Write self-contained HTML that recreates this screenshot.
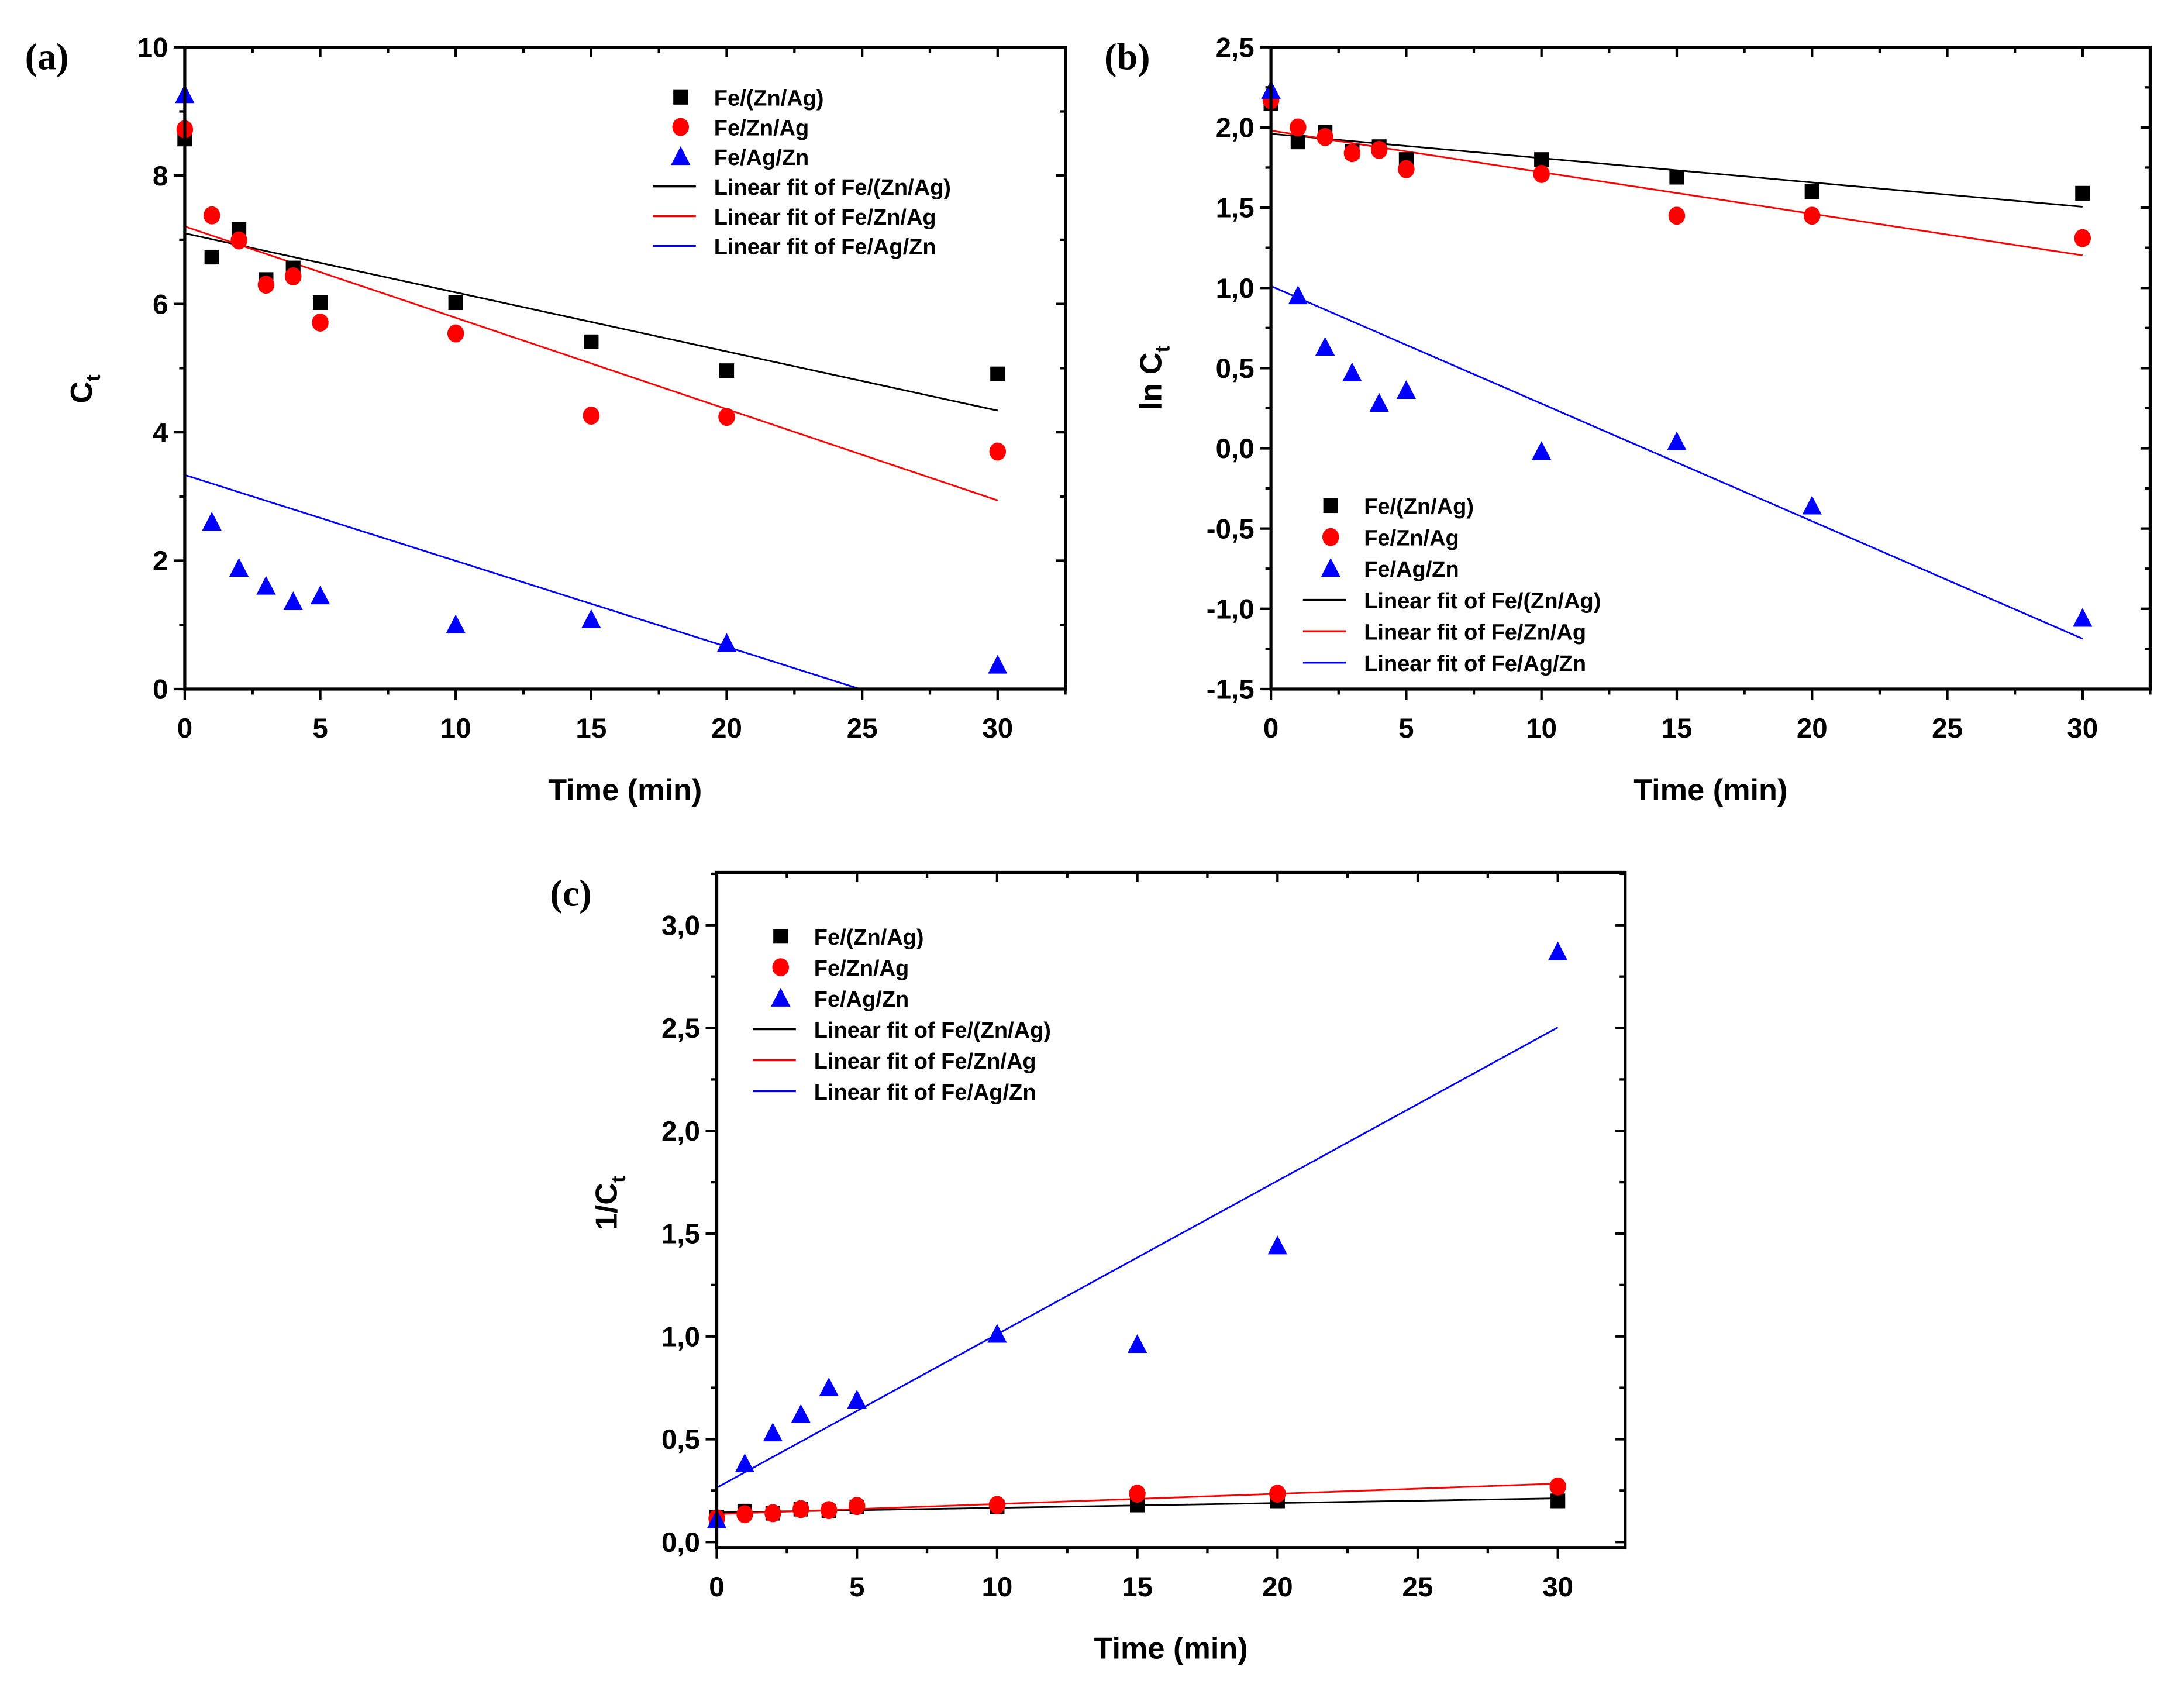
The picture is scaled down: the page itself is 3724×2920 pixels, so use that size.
<!DOCTYPE html>
<html><head><meta charset="utf-8"><style>
html,body{margin:0;padding:0;background:#fff;}
svg{display:block;}
text{font-family:"Liberation Sans",Arial,sans-serif;font-weight:bold;fill:#000;}
.serif{font-family:"Liberation Serif",serif;}
</style></head><body>
<svg id="fig" xmlns="http://www.w3.org/2000/svg" width="3724" height="2920" viewBox="0 0 1568 1229.5"></svg>
<script>
const times = [0,1,2,3,4,5,10,15,20,30];
// panel a: C_t
const aBlack = [8.57,6.73,7.16,6.38,6.56,6.02,6.02,5.41,4.96,4.91];
const aRed   = [8.72,7.38,6.99,6.30,6.43,5.71,5.54,4.26,4.24,3.70];
const aBlue  = [9.26,2.60,1.88,1.60,1.36,1.45,1.00,1.08,0.71,0.37];
// panel b: ln C_t
const bBlack = [2.15,1.91,1.97,1.85,1.88,1.80,1.80,1.69,1.60,1.59];
const bRed   = [2.17,2.00,1.94,1.84,1.86,1.74,1.71,1.45,1.45,1.31];
const bBlue  = [2.23,0.95,0.63,0.47,0.28,0.36,-0.02,0.04,-0.36,-1.06];
// panel c: 1/C_t
const cBlack = [0.12,0.15,0.14,0.16,0.15,0.17,0.17,0.18,0.20,0.20];
const cRed   = [0.115,0.135,0.14,0.16,0.155,0.175,0.18,0.235,0.235,0.27];
const cBlue  = [0.108,0.38,0.53,0.62,0.75,0.69,1.01,0.96,1.44,2.87];
const xTicks = [0,5,10,15,20,25,30];
const aTicks = [0,2,4,6,8,10];
const aTickLabels = ["0","2","4","6","8","10"];
const bTicks = [-1.5,-1,-0.5,0,0.5,1,1.5,2,2.5];
const bTickLabels = ["-1,5","-1,0","-0,5","0,0","0,5","1,0","1,5","2,0","2,5"];
const cTicks = [0,0.5,1,1.5,2,2.5,3];
const cTickLabels = ["0,0","0,5","1,0","1,5","2,0","2,5","3,0"];
const seriesNames = ["Fe/(Zn/Ag)","Fe/Zn/Ag","Fe/Ag/Zn"];
const colors = ["#000","#ff0000","#0000ff"];

const NS="http://www.w3.org/2000/svg";
const svg=document.getElementById('fig');
function mk(tag,attrs,parent){const e=document.createElementNS(NS,tag);for(const k in attrs)e.setAttribute(k,attrs[k]);(parent||svg).appendChild(e);return e;}
function fit(x,y){const n=x.length;let mx=0,my=0;for(let i=0;i<n;i++){mx+=x[i];my+=y[i];}mx/=n;my/=n;let sxy=0,sxx=0;for(let i=0;i<n;i++){sxy+=(x[i]-mx)*(y[i]-my);sxx+=(x[i]-mx)**2;}const b=sxy/sxx;return [my-b*mx,b];}
function marker(g,kind,cx,cy,color){
  let e;
  if(kind===0){e=mk('rect',{x:cx-5.3,y:cy-5.3,width:10.6,height:10.6,fill:color},g);}
  else if(kind===1){e=mk('ellipse',{cx:cx,cy:cy,rx:6,ry:6.5,fill:color},g);}
  else {e=mk('polygon',{points:`${cx},${cy-7.5} ${cx-7},${cy+6} ${cx+7},${cy+6}`,fill:color},g);}
  return e;
}
function panel(p){
  const g=mk('g',{});
  
  
  const X=v=>p.x0+(v-p.xmin)/(p.xmax-p.xmin)*(p.x1-p.x0);
  const Y=v=>p.y1-(v-p.ymin)/(p.ymax-p.ymin)*(p.y1-p.y0);
  const clip='clip-'+p.name;
  const cp=mk('clipPath',{id:clip},g);mk('rect',{x:p.x0,y:p.y0,width:p.x1-p.x0,height:p.y1-p.y0},cp);
  p.series.forEach((s,i)=>{
    const [a,b]=fit(times,s);
    const l=mk('line',{x1:X(0),y1:Y(a),x2:X(30),y2:Y(a+b*30),stroke:colors[i],'stroke-width':1.2,'clip-path':`url(#${clip})`},g);
    
    
  });
  p.series.forEach((s,i)=>{
    s.forEach((v,j)=>{
      const m=marker(g,i,X(times[j]),Y(v),colors[i]);
      
      
    });
  });
  const fr=mk('rect',{x:p.x0,y:p.y0,width:p.x1-p.x0,height:p.y1-p.y0,fill:'none',stroke:'#000','stroke-width':2.2},g);
  
  
  for(let v=0;v<=p.xmax;v+=2.5){
    const major=v%5===0, x=X(v);
    mk('line',{x1:x,y1:p.y1,x2:x,y2:p.y1+(major?8:4),stroke:'#000','stroke-width':1.8},g);
    mk('line',{x1:x,y1:p.y0,x2:x,y2:p.y0+(major?7:4),stroke:'#000','stroke-width':1.8},g);
  }
  xTicks.forEach(v=>{const t=mk('text',{x:X(v),y:p.y1+35,'font-size':20,'text-anchor':'middle'},g);t.textContent=String(v);
    
    });
  const step=p.yt[1]-p.yt[0];
  for(let k=0;k<p.yt.length;k++){
    const v=p.yt[k], y=Y(v);
    mk('line',{x1:p.x0-8,y1:y,x2:p.x0,y2:y,stroke:'#000','stroke-width':1.8},g);
    mk('line',{x1:p.x1-7,y1:y,x2:p.x1,y2:y,stroke:'#000','stroke-width':1.8},g);
    const t=mk('text',{x:p.x0-12,y:y+7,'font-size':20,'text-anchor':'end'},g);t.textContent=p.yl[k];
    
    
    const mv=v+step/2;
    if(mv<p.ymax){const ym=Y(mv);
      mk('line',{x1:p.x0-4,y1:ym,x2:p.x0,y2:ym,stroke:'#000','stroke-width':1.8},g);
      mk('line',{x1:p.x1-4,y1:ym,x2:p.x1,y2:ym,stroke:'#000','stroke-width':1.8},g);}
  }
  const xt=mk('text',{x:(p.x0+p.x1)/2,y:p.y1+80,'font-size':22,'text-anchor':'middle'},g);xt.textContent='Time (min)';
  
  
  const yt=mk('text',{x:0,y:0,'font-size':22,'text-anchor':'middle',transform:`translate(${p.ylx},${p.yly}) rotate(-90)`},g);
  yt.innerHTML=p.ylab+'<tspan font-size="15" dy="6">t</tspan>';
  
  
  const pl=mk('text',{x:p.lx,y:p.ly,'font-size':27,class:'serif'},g);pl.textContent=p.letter;
  
  
  const lg=mk('g',{},g);
  
  
  for(let i=0;i<6;i++){
    const y=p.legY+i*p.legDy;
    if(i<3){marker(lg,i,p.legX,y,colors[i]);}
    else{mk('line',{x1:p.legX-20,y1:y,x2:p.legX+11,y2:y,stroke:colors[i-3],'stroke-width':1.4},lg);}
    const t=mk('text',{x:p.legX+24,y:y+6,'font-size':16},lg);
    t.textContent=i<3?seriesNames[i]:'Linear fit of '+seriesNames[i-3];
    
    
  }
}
panel({name:'panel-a',x0:133,x1:767,y0:34,y1:496,xmin:0,xmax:32.5,ymin:0,ymax:10,yt:aTicks,yl:aTickLabels,
  series:[aBlack,aRed,aBlue],ylab:'C',ylx:66,yly:280,letter:'(a)',lx:18,ly:50,legX:490,legY:70,legDy:21.4});
panel({name:'panel-b',x0:915,x1:1548,y0:34,y1:496,xmin:0,xmax:32.5,ymin:-1.5,ymax:2.5,yt:bTicks,yl:bTickLabels,
  series:[bBlack,bRed,bBlue],ylab:'ln C',ylx:836,yly:272,letter:'(b)',lx:795,ly:50,legX:958,legY:364,legDy:22.6});
panel({name:'panel-c',x0:516,x1:1170,y0:628,y1:1114,xmin:0,xmax:32.4,ymin:-0.027,ymax:3.257,yt:cTicks,yl:cTickLabels,
  series:[cBlack,cRed,cBlue],ylab:'1/C',ylx:444,yly:866,letter:'(c)',lx:396,ly:652,legX:562,legY:674,legDy:22.3});
</script>
</body></html>
